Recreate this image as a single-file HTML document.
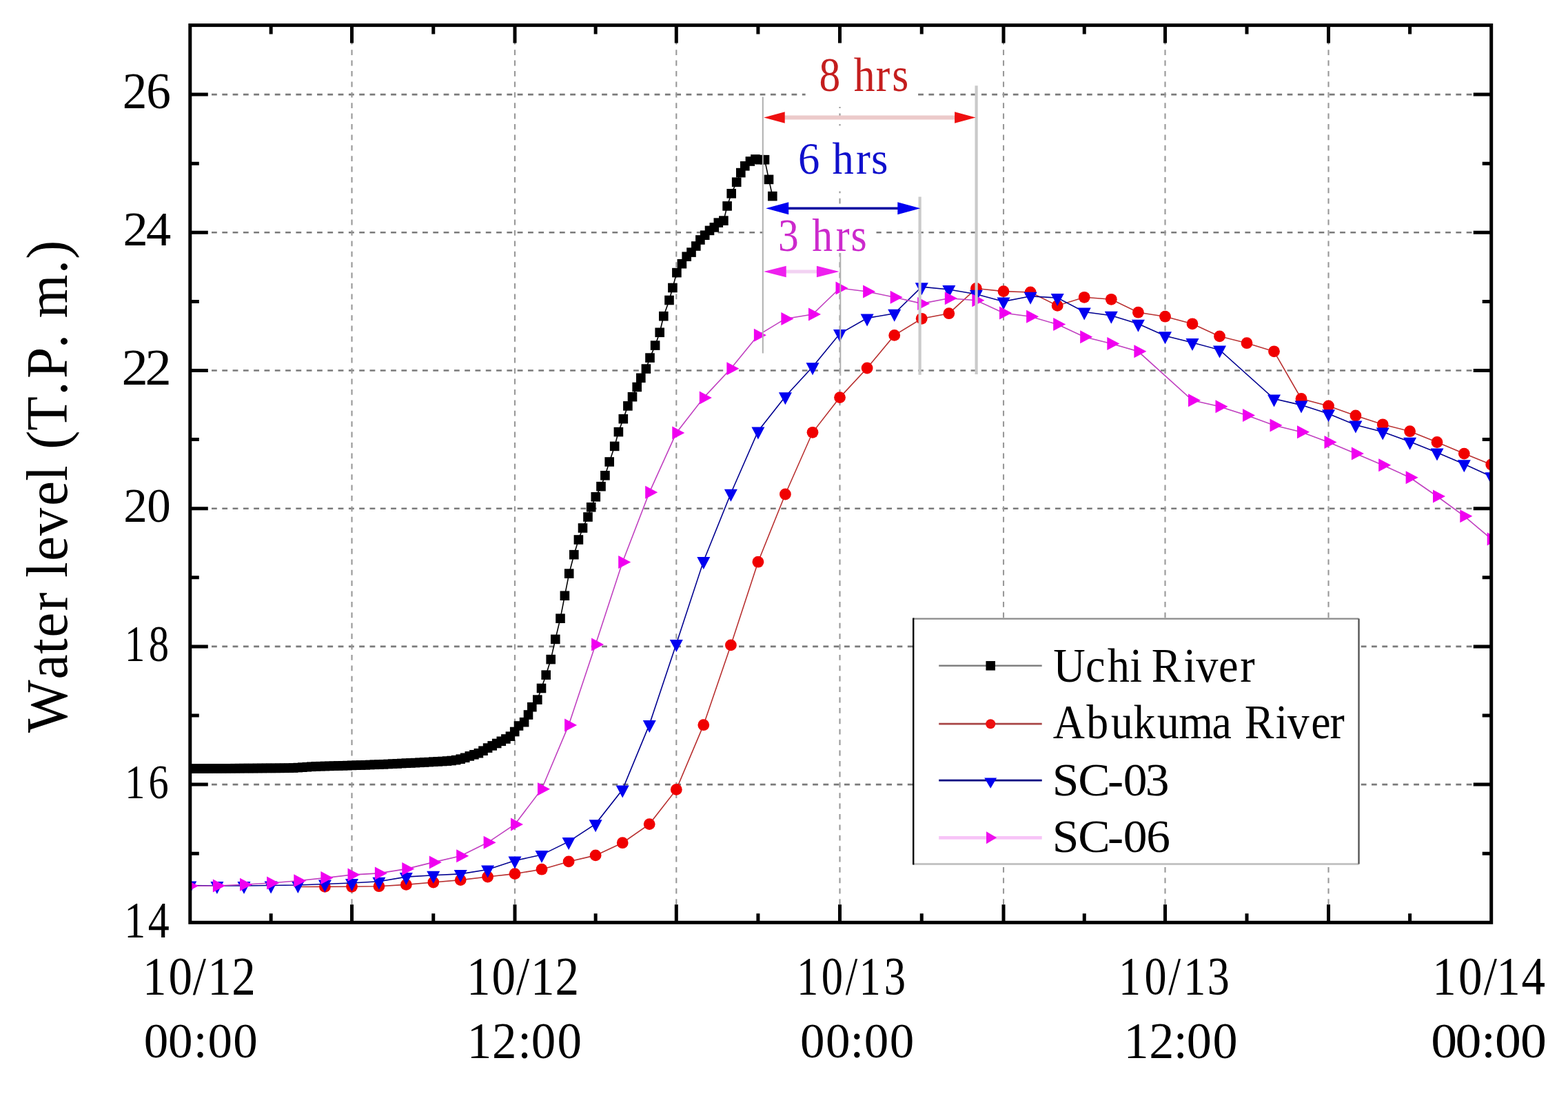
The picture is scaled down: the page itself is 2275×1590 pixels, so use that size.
<!DOCTYPE html>
<html><head><meta charset="utf-8"><title>Water level</title>
<style>html,body{margin:0;padding:0;background:#fff;}svg{display:block;}</style>
</head><body>
<svg width="2275" height="1590" viewBox="0 0 2275 1590" font-family="'Liberation Serif', serif">
<rect width="2275" height="1590" fill="#fff"/>
<defs><clipPath id="pc"><rect x="275.8" y="36.6" width="1887.9" height="1301.7"/></clipPath></defs>
<path d="M276.4 1138.10H2163.7M276.4 937.90H2163.7M276.4 737.70H2163.7M276.4 537.50H2163.7M276.4 337.30H2163.7M276.4 137.10H2163.7" stroke="#7a7a7a" stroke-width="2.6" stroke-dasharray="7.8 7.5" fill="none"/>
<path d="M510.50 41.4V1338.3M747.00 41.4V1338.3M981.30 41.4V1338.3M1218.50 41.4V1338.3M1456.00 41.4V1338.3M1690.50 41.4V1338.3M1927.50 41.4V1338.3" stroke="#989898" stroke-width="2.1" stroke-dasharray="7.8 7.6" fill="none"/>
<rect x="1168.6" y="58" width="163.4" height="97" fill="#fff"/>
<rect x="1140" y="182.4" width="166" height="95.1" fill="#fff"/>
<rect x="1107.5" y="298" width="164" height="69" fill="#fff"/>
<g clip-path="url(#pc)">
<path d="M275.8 1115.2 L282.3 1115.1 L288.8 1115.1 L295.4 1115.0 L301.9 1115.0 L308.4 1114.9 L314.9 1114.9 L321.4 1114.9 L328.0 1114.8 L334.5 1114.8 L341.0 1114.7 L347.5 1114.7 L354.0 1114.6 L360.6 1114.6 L367.1 1114.6 L373.6 1114.5 L380.1 1114.5 L386.6 1114.4 L393.1 1114.4 L399.7 1114.4 L406.2 1114.3 L412.7 1114.3 L419.2 1114.2 L425.7 1114.0 L432.3 1113.6 L438.8 1113.2 L445.3 1112.7 L451.8 1112.3 L458.3 1111.9 L464.9 1111.7 L471.4 1111.5 L477.9 1111.4 L484.4 1111.2 L490.9 1111.0 L497.5 1110.8 L504.0 1110.6 L510.5 1110.4 L517.1 1110.2 L523.6 1110.0 L530.2 1109.8 L536.8 1109.5 L543.3 1109.3 L549.9 1109.1 L556.5 1108.8 L563.1 1108.5 L569.6 1108.2 L576.2 1107.9 L582.8 1107.5 L589.3 1107.2 L595.9 1106.9 L602.5 1106.6 L609.0 1106.3 L615.6 1105.9 L622.2 1105.6 L628.8 1105.2 L635.3 1104.8 L641.9 1104.5 L648.5 1104.1 L655.0 1103.5 L661.6 1102.6 L668.2 1101.2 L674.7 1099.3 L681.3 1096.9 L687.9 1094.8 L694.4 1092.7 L701.0 1089.2 L707.6 1085.1 L714.2 1081.9 L720.7 1078.5 L727.3 1075.3 L733.9 1072.0 L740.4 1068.2 L746.7 1061.5 L752.5 1053.0 L760.6 1047.7 L766.5 1037.0 L771.8 1025.7 L779.8 1015.1 L785.5 998.5 L792.2 979.2 L799.2 956.6 L805.8 927.4 L813.0 897.2 L819.4 864.2 L825.7 832.1 L832.8 804.7 L839.4 783.0 L845.5 766.0 L853.0 750.0 L857.7 735.8 L864.3 720.8 L872.0 705.7 L877.9 689.8 L884.2 670.0 L891.7 647.4 L897.4 626.6 L904.3 607.7 L910.9 588.9 L917.5 575.7 L924.2 561.5 L929.8 548.3 L937.4 535.1 L943.0 519.1 L950.6 501.1 L957.2 482.3 L962.8 458.7 L971.0 435.5 L975.9 417.5 L981.9 395.6 L989.4 382.7 L996.2 372.2 L1003.0 366.1 L1009.8 357.0 L1015.9 348.0 L1022.7 341.2 L1029.5 334.4 L1036.3 329.9 L1042.3 323.1 L1049.9 320.1 L1055.1 298.9 L1061.2 280.8 L1068.7 264.2 L1074.8 250.6 L1080.8 240.8 L1088.4 234.0 L1095.9 231.0 L1102.7 231.7 L1109.5 231.7 L1115.5 260.4 L1120.8 284.6" stroke="#000" stroke-width="1.6" fill="none"/>
<g fill="#000"><rect x="269.0" y="1108.4" width="13.6" height="13.6"/><rect x="275.5" y="1108.3" width="13.6" height="13.6"/><rect x="282.0" y="1108.3" width="13.6" height="13.6"/><rect x="288.6" y="1108.2" width="13.6" height="13.6"/><rect x="295.1" y="1108.2" width="13.6" height="13.6"/><rect x="301.6" y="1108.1" width="13.6" height="13.6"/><rect x="308.1" y="1108.1" width="13.6" height="13.6"/><rect x="314.6" y="1108.1" width="13.6" height="13.6"/><rect x="321.2" y="1108.0" width="13.6" height="13.6"/><rect x="327.7" y="1108.0" width="13.6" height="13.6"/><rect x="334.2" y="1107.9" width="13.6" height="13.6"/><rect x="340.7" y="1107.9" width="13.6" height="13.6"/><rect x="347.2" y="1107.8" width="13.6" height="13.6"/><rect x="353.8" y="1107.8" width="13.6" height="13.6"/><rect x="360.3" y="1107.8" width="13.6" height="13.6"/><rect x="366.8" y="1107.7" width="13.6" height="13.6"/><rect x="373.3" y="1107.7" width="13.6" height="13.6"/><rect x="379.8" y="1107.6" width="13.6" height="13.6"/><rect x="386.3" y="1107.6" width="13.6" height="13.6"/><rect x="392.9" y="1107.6" width="13.6" height="13.6"/><rect x="399.4" y="1107.5" width="13.6" height="13.6"/><rect x="405.9" y="1107.5" width="13.6" height="13.6"/><rect x="412.4" y="1107.4" width="13.6" height="13.6"/><rect x="418.9" y="1107.2" width="13.6" height="13.6"/><rect x="425.5" y="1106.8" width="13.6" height="13.6"/><rect x="432.0" y="1106.4" width="13.6" height="13.6"/><rect x="438.5" y="1105.9" width="13.6" height="13.6"/><rect x="445.0" y="1105.5" width="13.6" height="13.6"/><rect x="451.5" y="1105.1" width="13.6" height="13.6"/><rect x="458.1" y="1104.9" width="13.6" height="13.6"/><rect x="464.6" y="1104.7" width="13.6" height="13.6"/><rect x="471.1" y="1104.6" width="13.6" height="13.6"/><rect x="477.6" y="1104.4" width="13.6" height="13.6"/><rect x="484.1" y="1104.2" width="13.6" height="13.6"/><rect x="490.7" y="1104.0" width="13.6" height="13.6"/><rect x="497.2" y="1103.8" width="13.6" height="13.6"/><rect x="503.7" y="1103.6" width="13.6" height="13.6"/><rect x="510.3" y="1103.4" width="13.6" height="13.6"/><rect x="516.8" y="1103.2" width="13.6" height="13.6"/><rect x="523.4" y="1103.0" width="13.6" height="13.6"/><rect x="530.0" y="1102.7" width="13.6" height="13.6"/><rect x="536.5" y="1102.5" width="13.6" height="13.6"/><rect x="543.1" y="1102.3" width="13.6" height="13.6"/><rect x="549.7" y="1102.0" width="13.6" height="13.6"/><rect x="556.3" y="1101.7" width="13.6" height="13.6"/><rect x="562.8" y="1101.4" width="13.6" height="13.6"/><rect x="569.4" y="1101.1" width="13.6" height="13.6"/><rect x="576.0" y="1100.7" width="13.6" height="13.6"/><rect x="582.5" y="1100.4" width="13.6" height="13.6"/><rect x="589.1" y="1100.1" width="13.6" height="13.6"/><rect x="595.7" y="1099.8" width="13.6" height="13.6"/><rect x="602.2" y="1099.5" width="13.6" height="13.6"/><rect x="608.8" y="1099.1" width="13.6" height="13.6"/><rect x="615.4" y="1098.8" width="13.6" height="13.6"/><rect x="622.0" y="1098.4" width="13.6" height="13.6"/><rect x="628.5" y="1098.0" width="13.6" height="13.6"/><rect x="635.1" y="1097.7" width="13.6" height="13.6"/><rect x="641.7" y="1097.3" width="13.6" height="13.6"/><rect x="648.2" y="1096.7" width="13.6" height="13.6"/><rect x="654.8" y="1095.8" width="13.6" height="13.6"/><rect x="661.4" y="1094.4" width="13.6" height="13.6"/><rect x="667.9" y="1092.5" width="13.6" height="13.6"/><rect x="674.5" y="1090.1" width="13.6" height="13.6"/><rect x="681.1" y="1088.0" width="13.6" height="13.6"/><rect x="687.6" y="1085.9" width="13.6" height="13.6"/><rect x="694.2" y="1082.4" width="13.6" height="13.6"/><rect x="700.8" y="1078.3" width="13.6" height="13.6"/><rect x="707.4" y="1075.1" width="13.6" height="13.6"/><rect x="713.9" y="1071.7" width="13.6" height="13.6"/><rect x="720.5" y="1068.5" width="13.6" height="13.6"/><rect x="727.1" y="1065.2" width="13.6" height="13.6"/><rect x="733.6" y="1061.4" width="13.6" height="13.6"/><rect x="739.9" y="1054.7" width="13.6" height="13.6"/><rect x="745.7" y="1046.2" width="13.6" height="13.6"/><rect x="753.8" y="1040.9" width="13.6" height="13.6"/><rect x="759.7" y="1030.2" width="13.6" height="13.6"/><rect x="765.0" y="1018.9" width="13.6" height="13.6"/><rect x="773.0" y="1008.3" width="13.6" height="13.6"/><rect x="778.7" y="991.7" width="13.6" height="13.6"/><rect x="785.4" y="972.4" width="13.6" height="13.6"/><rect x="792.4" y="949.8" width="13.6" height="13.6"/><rect x="799.0" y="920.6" width="13.6" height="13.6"/><rect x="806.2" y="890.4" width="13.6" height="13.6"/><rect x="812.6" y="857.4" width="13.6" height="13.6"/><rect x="818.9" y="825.3" width="13.6" height="13.6"/><rect x="826.0" y="797.9" width="13.6" height="13.6"/><rect x="832.6" y="776.2" width="13.6" height="13.6"/><rect x="838.7" y="759.2" width="13.6" height="13.6"/><rect x="846.2" y="743.2" width="13.6" height="13.6"/><rect x="850.9" y="729.0" width="13.6" height="13.6"/><rect x="857.5" y="714.0" width="13.6" height="13.6"/><rect x="865.2" y="698.9" width="13.6" height="13.6"/><rect x="871.1" y="683.0" width="13.6" height="13.6"/><rect x="877.4" y="663.2" width="13.6" height="13.6"/><rect x="884.9" y="640.6" width="13.6" height="13.6"/><rect x="890.6" y="619.8" width="13.6" height="13.6"/><rect x="897.5" y="600.9" width="13.6" height="13.6"/><rect x="904.1" y="582.1" width="13.6" height="13.6"/><rect x="910.7" y="568.9" width="13.6" height="13.6"/><rect x="917.4" y="554.7" width="13.6" height="13.6"/><rect x="923.0" y="541.5" width="13.6" height="13.6"/><rect x="930.6" y="528.3" width="13.6" height="13.6"/><rect x="936.2" y="512.3" width="13.6" height="13.6"/><rect x="943.8" y="494.3" width="13.6" height="13.6"/><rect x="950.4" y="475.5" width="13.6" height="13.6"/><rect x="956.0" y="451.9" width="13.6" height="13.6"/><rect x="964.2" y="428.7" width="13.6" height="13.6"/><rect x="969.1" y="410.7" width="13.6" height="13.6"/><rect x="975.1" y="388.8" width="13.6" height="13.6"/><rect x="982.6" y="375.9" width="13.6" height="13.6"/><rect x="989.4" y="365.4" width="13.6" height="13.6"/><rect x="996.2" y="359.3" width="13.6" height="13.6"/><rect x="1003.0" y="350.2" width="13.6" height="13.6"/><rect x="1009.1" y="341.2" width="13.6" height="13.6"/><rect x="1015.9" y="334.4" width="13.6" height="13.6"/><rect x="1022.7" y="327.6" width="13.6" height="13.6"/><rect x="1029.5" y="323.1" width="13.6" height="13.6"/><rect x="1035.5" y="316.3" width="13.6" height="13.6"/><rect x="1043.1" y="313.3" width="13.6" height="13.6"/><rect x="1048.3" y="292.1" width="13.6" height="13.6"/><rect x="1054.4" y="274.0" width="13.6" height="13.6"/><rect x="1061.9" y="257.4" width="13.6" height="13.6"/><rect x="1068.0" y="243.8" width="13.6" height="13.6"/><rect x="1074.0" y="234.0" width="13.6" height="13.6"/><rect x="1081.6" y="227.2" width="13.6" height="13.6"/><rect x="1089.1" y="224.2" width="13.6" height="13.6"/><rect x="1095.9" y="224.9" width="13.6" height="13.6"/><rect x="1102.7" y="224.9" width="13.6" height="13.6"/><rect x="1108.7" y="253.6" width="13.6" height="13.6"/><rect x="1114.0" y="277.8" width="13.6" height="13.6"/></g>
<path d="M432.3 1286.5 L471.4 1286.4 L510.5 1286.3 L549.9 1285.7 L589.3 1283.4 L628.8 1280.0 L668.2 1276.6 L707.6 1272.0 L747.0 1267.6 L786.0 1261.2 L825.1 1249.9 L864.1 1240.9 L903.2 1222.7 L942.2 1195.6 L981.3 1145.4 L1020.8 1051.7 L1060.4 935.9 L1099.9 815.2 L1139.4 717.0 L1179.0 627.3 L1218.5 576.6 L1258.1 534.0 L1297.7 486.4 L1337.2 462.3 L1376.8 454.7 L1416.4 418.5 L1456.0 422.6 L1495.1 424.0 L1534.2 443.4 L1573.2 431.3 L1612.3 434.3 L1651.4 453.2 L1690.5 459.2 L1730.0 469.8 L1769.5 487.9 L1809.0 497.7 L1848.5 509.8 L1888.0 578.5 L1927.5 588.9 L1966.9 603.0 L2006.2 615.8 L2045.6 625.7 L2085.0 641.5 L2124.3 658.1 L2163.7 674.0" stroke="#b83030" stroke-width="1.6" fill="none"/>
<g fill="#f00000"><circle cx="471.4" cy="1286.4" r="8.4"/><circle cx="510.5" cy="1286.3" r="8.4"/><circle cx="549.9" cy="1285.7" r="8.4"/><circle cx="589.3" cy="1283.4" r="8.4"/><circle cx="628.8" cy="1280.0" r="8.4"/><circle cx="668.2" cy="1276.6" r="8.4"/><circle cx="707.6" cy="1272.0" r="8.4"/><circle cx="747.0" cy="1267.6" r="8.4"/><circle cx="786.0" cy="1261.2" r="8.4"/><circle cx="825.1" cy="1249.9" r="8.4"/><circle cx="864.1" cy="1240.9" r="8.4"/><circle cx="903.2" cy="1222.7" r="8.4"/><circle cx="942.2" cy="1195.6" r="8.4"/><circle cx="981.3" cy="1145.4" r="8.4"/><circle cx="1020.8" cy="1051.7" r="8.4"/><circle cx="1060.4" cy="935.9" r="8.4"/><circle cx="1099.9" cy="815.2" r="8.4"/><circle cx="1139.4" cy="717.0" r="8.4"/><circle cx="1179.0" cy="627.3" r="8.4"/><circle cx="1218.5" cy="576.6" r="8.4"/><circle cx="1258.1" cy="534.0" r="8.4"/><circle cx="1297.7" cy="486.4" r="8.4"/><circle cx="1337.2" cy="462.3" r="8.4"/><circle cx="1376.8" cy="454.7" r="8.4"/><circle cx="1416.4" cy="418.5" r="8.4"/><circle cx="1456.0" cy="422.6" r="8.4"/><circle cx="1495.1" cy="424.0" r="8.4"/><circle cx="1534.2" cy="443.4" r="8.4"/><circle cx="1573.2" cy="431.3" r="8.4"/><circle cx="1612.3" cy="434.3" r="8.4"/><circle cx="1651.4" cy="453.2" r="8.4"/><circle cx="1690.5" cy="459.2" r="8.4"/><circle cx="1730.0" cy="469.8" r="8.4"/><circle cx="1769.5" cy="487.9" r="8.4"/><circle cx="1809.0" cy="497.7" r="8.4"/><circle cx="1848.5" cy="509.8" r="8.4"/><circle cx="1888.0" cy="578.5" r="8.4"/><circle cx="1927.5" cy="588.9" r="8.4"/><circle cx="1966.9" cy="603.0" r="8.4"/><circle cx="2006.2" cy="615.8" r="8.4"/><circle cx="2045.6" cy="625.7" r="8.4"/><circle cx="2085.0" cy="641.5" r="8.4"/><circle cx="2124.3" cy="658.1" r="8.4"/><circle cx="2163.7" cy="674.0" r="8.4"/></g>
<path d="M275.8 1284.5 L314.9 1285.0 L354.0 1285.0 L393.1 1284.5 L432.3 1284.0 L471.4 1282.5 L510.5 1281.0 L549.9 1278.7 L589.3 1272.1 L628.8 1269.8 L668.2 1267.9 L707.6 1261.5 L747.0 1248.5 L786.0 1240.1 L825.1 1220.9 L864.1 1195.3 L903.2 1145.5 L942.2 1051.1 L981.3 934.0 L1020.8 814.0 L1060.4 715.8 L1099.9 625.4 L1139.4 575.3 L1179.0 532.3 L1218.5 484.0 L1258.1 461.5 L1297.7 454.7 L1337.2 416.2 L1376.8 420.0 L1416.4 426.8 L1456.0 437.4 L1495.1 429.8 L1534.2 432.1 L1573.2 452.5 L1612.3 457.8 L1651.4 469.8 L1690.5 487.2 L1730.0 497.0 L1769.5 507.6 L1848.5 578.5 L1888.0 587.6 L1927.5 600.2 L1966.9 616.6 L2006.2 626.4 L2045.6 640.8 L2085.0 656.6 L2124.3 673.2 L2163.7 691.3" stroke="#000090" stroke-width="1.6" fill="none"/>
<g fill="#0000f0"><path d="M266.3 1278.5H285.3L275.8 1296.5Z"/><path d="M305.4 1279.0H324.4L314.9 1297.0Z"/><path d="M344.5 1279.0H363.5L354.0 1297.0Z"/><path d="M383.6 1278.5H402.6L393.1 1296.5Z"/><path d="M422.8 1278.0H441.8L432.3 1296.0Z"/><path d="M461.9 1276.5H480.9L471.4 1294.5Z"/><path d="M501.0 1275.0H520.0L510.5 1293.0Z"/><path d="M540.4 1272.7H559.4L549.9 1290.7Z"/><path d="M579.8 1266.1H598.8L589.3 1284.1Z"/><path d="M619.2 1263.8H638.2L628.8 1281.8Z"/><path d="M658.7 1261.9H677.7L668.2 1279.9Z"/><path d="M698.1 1255.5H717.1L707.6 1273.5Z"/><path d="M737.5 1242.5H756.5L747.0 1260.5Z"/><path d="M776.5 1234.1H795.5L786.0 1252.1Z"/><path d="M815.6 1214.9H834.6L825.1 1232.9Z"/><path d="M854.6 1189.3H873.6L864.1 1207.3Z"/><path d="M893.7 1139.5H912.7L903.2 1157.5Z"/><path d="M932.8 1045.1H951.8L942.2 1063.1Z"/><path d="M971.8 928.0H990.8L981.3 946.0Z"/><path d="M1011.3 808.0H1030.3L1020.8 826.0Z"/><path d="M1050.9 709.8H1069.9L1060.4 727.8Z"/><path d="M1090.4 619.4H1109.4L1099.9 637.4Z"/><path d="M1129.9 569.3H1148.9L1139.4 587.3Z"/><path d="M1169.5 526.3H1188.5L1179.0 544.3Z"/><path d="M1209.0 478.0H1228.0L1218.5 496.0Z"/><path d="M1248.6 455.5H1267.6L1258.1 473.5Z"/><path d="M1288.2 448.7H1307.2L1297.7 466.7Z"/><path d="M1327.8 410.2H1346.8L1337.2 428.2Z"/><path d="M1367.3 414.0H1386.3L1376.8 432.0Z"/><path d="M1406.9 420.8H1425.9L1416.4 438.8Z"/><path d="M1446.5 431.4H1465.5L1456.0 449.4Z"/><path d="M1485.6 423.8H1504.6L1495.1 441.8Z"/><path d="M1524.7 426.1H1543.7L1534.2 444.1Z"/><path d="M1563.8 446.5H1582.8L1573.2 464.5Z"/><path d="M1602.8 451.8H1621.8L1612.3 469.8Z"/><path d="M1641.9 463.8H1660.9L1651.4 481.8Z"/><path d="M1681.0 481.2H1700.0L1690.5 499.2Z"/><path d="M1720.5 491.0H1739.5L1730.0 509.0Z"/><path d="M1760.0 501.6H1779.0L1769.5 519.6Z"/><path d="M1839.0 572.5H1858.0L1848.5 590.5Z"/><path d="M1878.5 581.6H1897.5L1888.0 599.6Z"/><path d="M1918.0 594.2H1937.0L1927.5 612.2Z"/><path d="M1957.4 610.6H1976.4L1966.9 628.6Z"/><path d="M1996.7 620.4H2015.7L2006.2 638.4Z"/><path d="M2036.1 634.8H2055.1L2045.6 652.8Z"/><path d="M2075.5 650.6H2094.5L2085.0 668.6Z"/><path d="M2114.8 667.2H2133.8L2124.3 685.2Z"/><path d="M2154.2 685.3H2173.2L2163.7 703.3Z"/></g>
<path d="M275.8 1285.2 L314.9 1285.0 L354.0 1283.2 L393.1 1281.0 L432.3 1277.8 L471.4 1273.6 L510.5 1269.1 L549.9 1266.9 L589.3 1260.6 L628.8 1250.9 L668.2 1241.7 L707.6 1222.3 L747.0 1196.0 L786.0 1144.7 L825.1 1051.9 L864.1 934.9 L903.2 815.5 L942.2 714.3 L981.3 628.0 L1020.8 577.1 L1060.4 534.8 L1099.9 486.3 L1139.4 462.4 L1179.0 456.0 L1218.5 418.0 L1258.1 423.0 L1297.7 431.3 L1337.2 440.4 L1376.8 432.8 L1416.4 435.8 L1456.0 454.0 L1495.1 459.2 L1534.2 470.6 L1573.2 488.7 L1612.3 498.5 L1651.4 509.8 L1730.0 580.8 L1769.5 589.8 L1809.0 602.6 L1848.5 617.0 L1888.0 626.8 L1927.5 641.5 L1966.9 658.1 L2006.2 674.7 L2045.6 692.8 L2085.0 720.0 L2124.3 748.7 L2163.7 781.9" stroke="#c040c0" stroke-width="1.6" fill="none"/>
<g fill="#f000f0"><path d="M269.8 1275.7V1294.7L287.8 1285.2Z"/><path d="M308.9 1275.5V1294.5L326.9 1285.0Z"/><path d="M348.0 1273.7V1292.7L366.0 1283.2Z"/><path d="M387.1 1271.5V1290.5L405.1 1281.0Z"/><path d="M426.3 1268.3V1287.3L444.3 1277.8Z"/><path d="M465.4 1264.1V1283.1L483.4 1273.6Z"/><path d="M504.5 1259.6V1278.6L522.5 1269.1Z"/><path d="M543.9 1257.4V1276.4L561.9 1266.9Z"/><path d="M583.3 1251.1V1270.1L601.3 1260.6Z"/><path d="M622.8 1241.4V1260.4L640.8 1250.9Z"/><path d="M662.2 1232.2V1251.2L680.2 1241.7Z"/><path d="M701.6 1212.8V1231.8L719.6 1222.3Z"/><path d="M741.0 1186.5V1205.5L759.0 1196.0Z"/><path d="M780.0 1135.2V1154.2L798.0 1144.7Z"/><path d="M819.1 1042.4V1061.4L837.1 1051.9Z"/><path d="M858.1 925.4V944.4L876.1 934.9Z"/><path d="M897.2 806.0V825.0L915.2 815.5Z"/><path d="M936.2 704.8V723.8L954.2 714.3Z"/><path d="M975.3 618.5V637.5L993.3 628.0Z"/><path d="M1014.8 567.6V586.6L1032.8 577.1Z"/><path d="M1054.4 525.3V544.3L1072.4 534.8Z"/><path d="M1093.9 476.8V495.8L1111.9 486.3Z"/><path d="M1133.4 452.9V471.9L1151.4 462.4Z"/><path d="M1173.0 446.5V465.5L1191.0 456.0Z"/><path d="M1212.5 408.5V427.5L1230.5 418.0Z"/><path d="M1252.1 413.5V432.5L1270.1 423.0Z"/><path d="M1291.7 421.8V440.8L1309.7 431.3Z"/><path d="M1331.2 430.9V449.9L1349.2 440.4Z"/><path d="M1370.8 423.3V442.3L1388.8 432.8Z"/><path d="M1410.4 426.3V445.3L1428.4 435.8Z"/><path d="M1450.0 444.5V463.5L1468.0 454.0Z"/><path d="M1489.1 449.7V468.7L1507.1 459.2Z"/><path d="M1528.2 461.1V480.1L1546.2 470.6Z"/><path d="M1567.2 479.2V498.2L1585.2 488.7Z"/><path d="M1606.3 489.0V508.0L1624.3 498.5Z"/><path d="M1645.4 500.3V519.3L1663.4 509.8Z"/><path d="M1724.0 571.3V590.3L1742.0 580.8Z"/><path d="M1763.5 580.3V599.3L1781.5 589.8Z"/><path d="M1803.0 593.1V612.1L1821.0 602.6Z"/><path d="M1842.5 607.5V626.5L1860.5 617.0Z"/><path d="M1882.0 617.3V636.3L1900.0 626.8Z"/><path d="M1921.5 632.0V651.0L1939.5 641.5Z"/><path d="M1960.9 648.6V667.6L1978.9 658.1Z"/><path d="M2000.2 665.2V684.2L2018.2 674.7Z"/><path d="M2039.6 683.3V702.3L2057.6 692.8Z"/><path d="M2079.0 710.5V729.5L2097.0 720.0Z"/><path d="M2118.3 739.2V758.2L2136.3 748.7Z"/><path d="M2157.7 772.4V791.4L2175.7 781.9Z"/></g>
</g>
<path d="M1106.8 140.6V512.6M1219.3 367V545" stroke="#b0b0b0" stroke-width="2" fill="none"/>
<path d="M1334.6 285.4V543.7M1416.6 124.2V543" stroke="#cacaca" stroke-width="4.2" fill="none"/>
<path d="M1137.7 170.5H1386.1" stroke="#eccaca" stroke-width="6"/>
<path d="M1108.2 170.5L1138.7 162.3V178.7Z M1415.6 170.5L1385.1 162.3V178.7Z" fill="#ee1010"/>
<path d="M1143.2 302.3H1303.3" stroke="#0000a0" stroke-width="3.5"/>
<path d="M1111.2 302.3L1144.2 293.3V311.3Z M1335.3 302.3L1302.3 293.3V311.3Z" fill="#0000f0"/>
<path d="M1139.7 394.0H1185.9" stroke="#f2d2f2" stroke-width="5"/>
<path d="M1108.0 394.0L1140.7 385.8V402.2Z M1217.6 394.0L1184.8999999999999 385.8V402.2Z" fill="#ee20ee"/>
<text transform="translate(0 131.50) scale(0.8950 1)" x="1327.82 1362.20 1384.03 1419.83 1445.99" y="0" font-size="68.75" fill="#c41e1e" >8 hrs</text>
<text transform="translate(0 251.90) scale(0.9516 1)" x="1216.77 1249.70 1268.91 1305.14 1328.25" y="0" font-size="65.86" fill="#1010cc" >6 hrs</text>
<text transform="translate(0 363.50) scale(0.8884 1)" x="1270.83 1304.34 1326.29 1364.99 1389.67" y="0" font-size="67.02" fill="#cc2acc" >3 hrs</text>
<path d="M393.15 1338.3v-13M393.15 36.6v13M510.50 1338.3v-26M510.50 36.6v26M628.75 1338.3v-13M628.75 36.6v13M747.00 1338.3v-26M747.00 36.6v26M864.15 1338.3v-13M864.15 36.6v13M981.30 1338.3v-26M981.30 36.6v26M1099.90 1338.3v-13M1099.90 36.6v13M1218.50 1338.3v-26M1218.50 36.6v26M1337.25 1338.3v-13M1337.25 36.6v13M1456.00 1338.3v-26M1456.00 36.6v26M1573.25 1338.3v-13M1573.25 36.6v13M1690.50 1338.3v-26M1690.50 36.6v26M1809.00 1338.3v-13M1809.00 36.6v13M1927.50 1338.3v-26M1927.50 36.6v26M2045.60 1338.3v-13M2045.60 36.6v13M275.8 1238.20h13M2163.7 1238.20h-13M275.8 1138.10h26M2163.7 1138.10h-26M275.8 1038.00h13M2163.7 1038.00h-13M275.8 937.90h26M2163.7 937.90h-26M275.8 837.80h13M2163.7 837.80h-13M275.8 737.70h26M2163.7 737.70h-26M275.8 637.60h13M2163.7 637.60h-13M275.8 537.50h26M2163.7 537.50h-26M275.8 437.40h13M2163.7 437.40h-13M275.8 337.30h26M2163.7 337.30h-26M275.8 237.20h13M2163.7 237.20h-13M275.8 137.10h26M2163.7 137.10h-26" stroke="#000" stroke-width="5" fill="none"/>
<rect x="275.8" y="36.6" width="1887.9" height="1301.7" fill="none" stroke="#000" stroke-width="5"/>
<rect x="1325.2" y="897.6" width="646.3" height="355.8" fill="#fff"/>
<path d="M1325.2 897.6H1971.5" stroke="#8a8a8a" stroke-width="2.4"/>
<path d="M1325.2 1253.4H1971.5" stroke="#c4c4c4" stroke-width="3"/>
<path d="M1971.5 897.6V1253.4" stroke="#555" stroke-width="2.4"/>
<path d="M1325.2 896.6V1254.4" stroke="#000" stroke-width="2.4"/>
<path d="M1362.2 965.8H1511.7" stroke="#808080" stroke-width="2.4"/>
<rect x="1430.45" y="959.05" width="13.5" height="13.5" fill="#000"/>
<path d="M1362.2 1050.2H1511.7" stroke="#a84545" stroke-width="2.8"/>
<circle cx="1437.2" cy="1050.2" r="7.0" fill="#ee1010"/>
<path d="M1362.2 1132.1H1511.7" stroke="#000080" stroke-width="2.8"/>
<path d="M1428.2 1128.6H1446.2L1437.2 1143.8Z" fill="#0000ee"/>
<path d="M1362.2 1215.3H1511.7" stroke="#f7c4f7" stroke-width="4.8"/>
<path d="M1431.0 1206.3V1224.3L1446.2 1215.3Z" fill="#ee10ee"/>
<text transform="translate(0 988.60) scale(0.9221 1)" x="1657.40 1708.12 1742.38 1777.66 1797.05 1811.94 1862.25 1881.90 1917.32 1951.21" y="0" font-size="69.79" fill="#000" >Uchi River</text>
<text transform="translate(0 1071.10) scale(0.9267 1)" x="1648.63 1700.96 1739.49 1774.69 1811.46 1845.44 1897.61 1928.20 1948.69 1996.86 2015.39 2052.62 2082.26" y="0" font-size="68.92" fill="#000" >Abukuma River</text>
<text transform="translate(0 1154.24) scale(1.0265 1)" x="1487.30 1523.99 1565.57 1587.77 1618.94" y="0" font-size="67.72" fill="#000" >SC-03</text>
<text transform="translate(0 1236.34) scale(1.0242 1)" x="1490.56 1527.33 1569.00 1591.24 1623.89" y="0" font-size="67.87" fill="#000" >SC-06</text>
<text transform="translate(0 156.60) scale(0.9670 1)" x="183.91 219.41" y="0" font-size="73.70" fill="#000" >26</text>
<text transform="translate(0 355.60) scale(1.0363 1)" x="172.29 204.66" y="0" font-size="69.93" fill="#000" >24</text>
<text transform="translate(0 557.60) scale(1.0438 1)" x="169.06 201.59" y="0" font-size="73.25" fill="#000" >22</text>
<text transform="translate(0 756.80) scale(0.9936 1)" x="180.54 214.57" y="0" font-size="69.47" fill="#000" >20</text>
<text transform="translate(0 958.60) scale(0.8000 1)" x="226.36 269.75" y="0" font-size="73.25" fill="#000" >18</text>
<text transform="translate(0 1157.60) scale(0.8487 1)" x="213.45 253.90" y="0" font-size="68.72" fill="#000" >16</text>
<text transform="translate(0 1359.90) scale(0.8414 1)" x="214.14 255.19" y="0" font-size="73.70" fill="#000" >14</text>
<text transform="translate(0 1441.80) scale(0.8876 1)" x="233.18 275.50 315.13 339.31 378.86" y="0" font-size="77.86" fill="#000" >10/12</text>
<text transform="translate(0 1533.68) scale(0.9884 1)" x="211.18 246.90 284.09 304.92 342.20" y="0" font-size="71.85" fill="#000" >00:00</text>
<text transform="translate(0 1441.80) scale(0.8876 1)" x="762.83 803.96 843.88 867.49 907.60" y="0" font-size="77.86" fill="#000" >10/12</text>
<text transform="translate(0 1534.60) scale(0.9627 1)" x="704.11 741.65 780.25 800.55 839.92" y="0" font-size="73.77" fill="#000" >12:00</text>
<text transform="translate(0 1441.80) scale(0.8053 1)" x="1435.36 1479.96 1523.38 1547.80 1593.00" y="0" font-size="77.86" fill="#000" >10/13</text>
<text transform="translate(0 1533.68) scale(0.9884 1)" x="1174.66 1212.00 1247.87 1268.40 1305.98" y="0" font-size="71.85" fill="#000" >00:00</text>
<text transform="translate(0 1441.80) scale(0.8239 1)" x="1969.86 2015.36 2057.69 2084.19 2126.19" y="0" font-size="77.86" fill="#000" >10/13</text>
<text transform="translate(0 1534.60) scale(0.9787 1)" x="1665.98 1703.49 1739.75 1759.27 1797.74" y="0" font-size="73.77" fill="#000" >12:00</text>
<text transform="translate(0 1441.80) scale(0.8876 1)" x="2341.52 2383.84 2425.50 2446.19 2487.17" y="0" font-size="77.86" fill="#000" >10/14</text>
<text transform="translate(0 1533.68) scale(1.0541 1)" x="1969.70 2003.14 2038.75 2057.79 2092.74" y="0" font-size="71.85" fill="#000" >00:00</text>
<text transform="translate(97.1 1070.0) rotate(-90) scale(0.9500 1)" x="7.38 89.00 127.75 152.94 193.13 221.60 244.28 269.57 308.05 353.57 391.70 415.46 440.21 468.67 522.37 548.49 594.37 615.74 640.57 708.05 730.84" y="0" font-size="85.50" fill="#000">Water level (T.P. m.)</text>
</svg>
</body></html>
